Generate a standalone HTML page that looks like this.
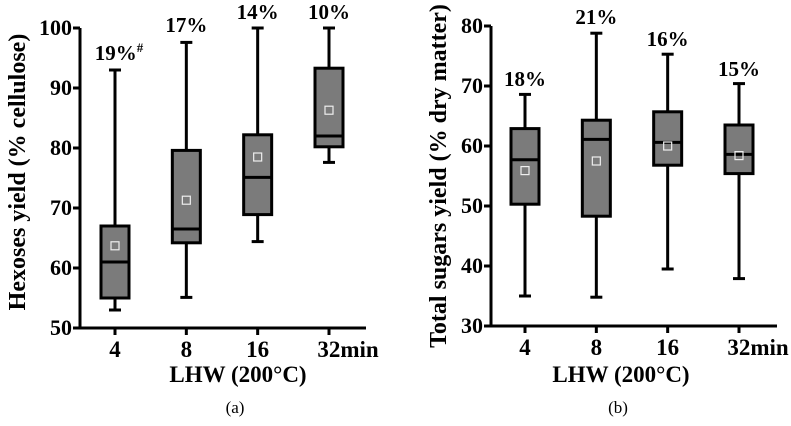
<!DOCTYPE html>
<html><head><meta charset="utf-8"><style>
body{margin:0;background:#fff;}
svg text{font-family:"Liberation Serif",serif;font-weight:bold;fill:#000;}
svg text.cap{font-weight:normal;}
</style></head><body>
<svg id="c" width="791" height="421" viewBox="0 0 791 421"></svg>
<script>
const categories=["4","8","16","32min"];
const aMax=[93,97.6,100,100],aQ3=[67,79.6,82.2,93.3],aMed=[61,66.5,75.1,82],aQ1=[55,64.2,68.9,80.2],aMin=[53,55.1,64.4,77.6],aMean=[63.7,71.3,78.5,86.3];
const aLabels=["19%","17%","14%","10%"];
const aTicks=[50,60,70,80,90,100];
const bMax=[68.6,78.8,75.3,70.4],bQ3=[62.9,64.3,65.7,63.5],bMed=[57.7,61.1,60.6,58.6],bQ1=[50.3,48.3,56.8,55.4],bMin=[35,34.8,39.5,37.9],bMean=[55.9,57.5,60,58.4];
const bLabels=["18%","21%","16%","15%"];
const bTicks=[30,40,50,60,70,80];
const NS="http://www.w3.org/2000/svg",svg=document.getElementById('c');
function mk(t,a,p){const e=document.createElementNS(NS,t);for(const k in a)e.setAttribute(k,a[k]);(p||svg).appendChild(e);return e;}
function panel(o){
 const g=mk('g',{});
 
 
 const y=v=>o.y0+(v-o.ticks[0])*(o.y1-o.y0)/(o.ticks[o.ticks.length-1]-o.ticks[0]);
 const x=i=>o.xs[0]+i*(o.xs[1]-o.xs[0])/3;
 const ax=mk('path',{d:`M${o.ax},${y(o.ticks[o.ticks.length-1])}V${o.y0}H${o.axEnd}`,stroke:'#000','stroke-width':3,fill:'none'},g);
 
 o.ticks.forEach(t=>{mk('line',{x1:o.ax-7,x2:o.ax,y1:y(t),y2:y(t),stroke:'#000','stroke-width':3},g);
  const tx=mk('text',{x:o.ax-8,y:y(t)+7,'text-anchor':'end','font-size':22},g);tx.textContent=t;
  });
 categories.forEach((c,i)=>{const cx=x(i);
  mk('line',{x1:cx,x2:cx,y1:o.y0,y2:o.y0+7,stroke:'#000','stroke-width':3},g);
  const tx=mk('text',{x:cx+(i==3?19:0),y:o.y0+29,'text-anchor':'middle','font-size':23},g);tx.textContent=c;
  
  const b=mk('g',{},g);
  const w=14;
  mk('line',{x1:cx,x2:cx,y1:y(o.max[i]),y2:y(o.min[i]),stroke:'#000','stroke-width':3},b);
  mk('line',{x1:cx-6,x2:cx+6,y1:y(o.max[i]),y2:y(o.max[i]),stroke:'#000','stroke-width':3},b);
  mk('line',{x1:cx-6,x2:cx+6,y1:y(o.min[i]),y2:y(o.min[i]),stroke:'#000','stroke-width':3},b);
  mk('rect',{x:cx-w,y:y(o.q3[i]),width:2*w,height:y(o.q1[i])-y(o.q3[i]),fill:'#7b7b7b',stroke:'#000','stroke-width':3},b);
  mk('line',{x1:cx-w,x2:cx+w,y1:y(o.med[i]),y2:y(o.med[i]),stroke:'#000','stroke-width':3},b);
  mk('rect',{x:cx-4,y:y(o.mean[i])-4,width:8,height:8,fill:'none',stroke:'#eee','stroke-width':1.2},b);
  const l=mk('text',{x:cx,y:o.lblY[i],'text-anchor':'middle','font-size':21},g);l.textContent=o.labels[i];
  
  if(o.hash&&i==0){l.setAttribute('x',cx+4);const s=mk('tspan',{'font-size':13,dy:-8},l);s.textContent='#';}
 });
 const yt=mk('text',{transform:`translate(${o.ytx},${o.yty}) rotate(-90)`,'text-anchor':'middle','font-size':24},g);yt.textContent=o.ytitle;
 
 const xt=mk('text',{x:o.xtx,y:382,'text-anchor':'middle','font-size':23},g);xt.textContent='LHW (200°C)';
 
 const cp=mk('text',{x:o.xtx-3,y:413,'text-anchor':'middle','font-size':17,'class':'cap'},g);cp.textContent=o.cap;
 
}
panel({name:'panel-a',ticks:aTicks,y0:328,y1:28,ax:80,axEnd:366,xs:[115,329],max:aMax,q3:aQ3,med:aMed,q1:aQ1,min:aMin,mean:aMean,labels:aLabels,lblY:[60,32,19,19],hash:true,ytitle:'Hexoses yield (% cellulose)',ytx:25,yty:172,xtx:238,cap:'(a)'});
panel({name:'panel-b',ticks:bTicks,y0:326,y1:26,ax:491,axEnd:777,xs:[525,739],max:bMax,q3:bQ3,med:bMed,q1:bQ1,min:bMin,mean:bMean,labels:bLabels,lblY:[86,24,46,76],hash:false,ytitle:'Total sugars yield (% dry matter)',ytx:446,yty:176,xtx:621,cap:'(b)'});
</script>
</body></html>
